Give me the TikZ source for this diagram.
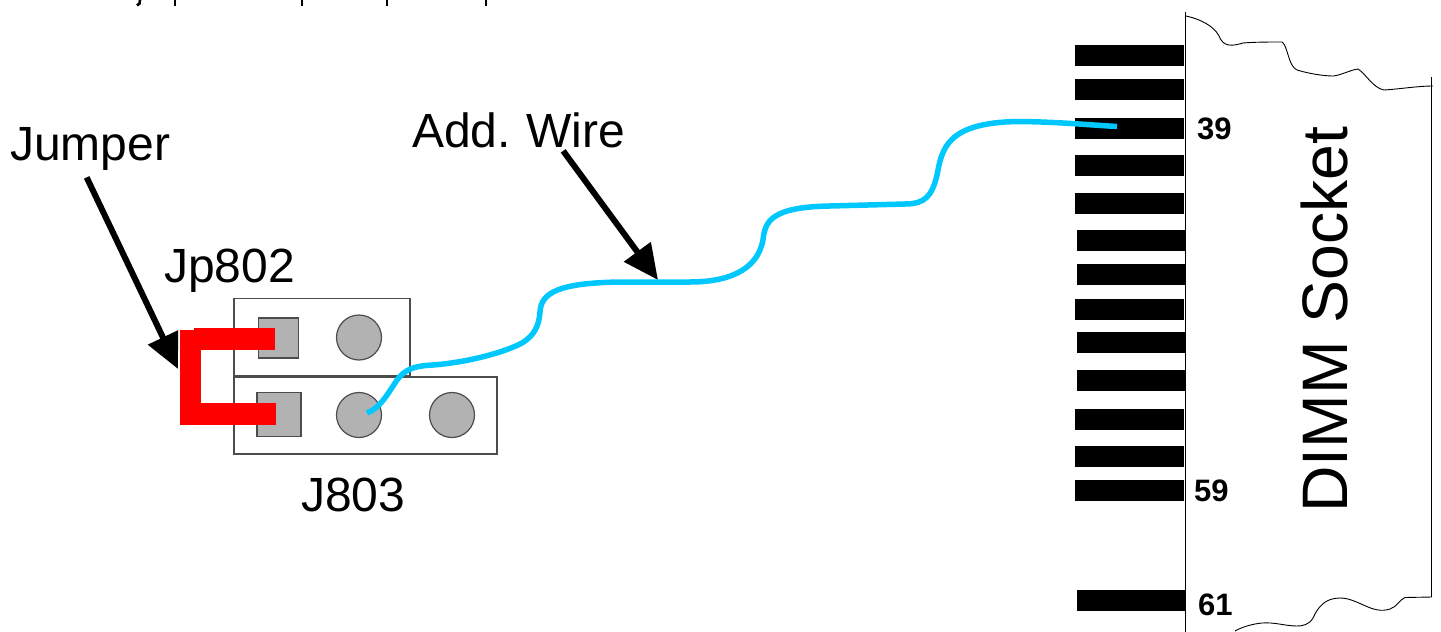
\documentclass[tikz,border=0pt]{standalone}
\usepackage{fontspec}
\setmainfont{Liberation Sans}
\usetikzlibrary{arrows.meta}
\definecolor{wireblue}{HTML}{00C8FF}
\definecolor{pingray}{HTML}{B2B2B2}
\tikzset{
  header/.style={draw=black!70, line width=1.2pt, minimum height=77pt, inner sep=0},
  sqpin/.style={draw=black!70, line width=1.2pt, fill=pingray, inner sep=0},
  rdpin/.style={circle, draw=black!70, line width=1.2pt, fill=pingray, minimum size=45pt, inner sep=0},
  contact/.style={fill=black, minimum height=21pt, inner sep=0, anchor=north west},
  biglabel/.style={font=\fontsize{48}{48}\selectfont, inner sep=0, anchor=base west},
  pinlabel/.style={font=\fontsize{31}{31}\selectfont\bfseries, inner sep=0, anchor=base west},
  pointer/.style={line width=6pt, -{Triangle[length=35pt,width=32pt]}},
  wire/.style={draw=wireblue, line width=5.5pt}
}
\begin{document}
\begin{tikzpicture}[x=1pt, y=-1pt]
    \useasboundingbox (0, 0) rectangle (1441, 632);

    % Cut off line of text
    \foreach \x in {175, 302, 387, 486}
      \draw [line width=2.8pt] (\x, 0) -- (\x, 6);
    \draw [line width=2.6pt] (140, 0) -- (139.5, 3.5) -- (137, 5.5);

    % Headers
    \node [header, minimum width=176pt] (jp802) at (322, 337) {};
    \node [header, minimum width=263pt] (j803) at (365.5, 415.5) {};

    % Pins
    \node [sqpin, minimum size=40pt] (jp802a) at (278.5, 338) {};
    \node [rdpin] (jp802b) at (359, 337.5) {};
    \node [sqpin, minimum size=44pt] (j803a) at (279, 414.5) {};
    \node [rdpin] (j803b) at (359, 415) {};
    \node [rdpin] (j803c) at (452, 415) {};

    % Socket outline
    \draw [line width=1pt] (1185.5, 12) -- (1185.5, 632);
    \draw [line width=1pt] (1431.5, 77) -- (1431.5, 597);
    \draw [line width=0.9pt] (1186, 16) .. controls (1200, 19) and (1214, 26) .. (1219, 36)
          .. controls (1223, 46) and (1230, 47) .. (1243, 43)
          .. controls (1255, 42) and (1270, 42) .. (1282, 42)
          .. controls (1288, 46) and (1288, 66) .. (1297, 70)
          .. controls (1310, 74) and (1325, 76) .. (1333, 76)
          .. controls (1342, 75) and (1350, 70) .. (1358, 69)
          .. controls (1366, 74) and (1373, 88) .. (1384, 90)
          .. controls (1400, 89) and (1418, 86) .. (1433, 86);
    \draw [line width=0.9pt] (1432, 597) -- (1405, 597.5)
          .. controls (1399, 600) and (1397, 607) .. (1390, 609)
          .. controls (1372, 615) and (1358, 598) .. (1340, 598)
          .. controls (1325, 598) and (1318, 607) .. (1313, 618)
          .. controls (1309, 625) and (1302, 626) .. (1297, 626)
          .. controls (1285, 626) and (1275, 622) .. (1262, 623)
          .. controls (1252, 624) and (1242, 627) .. (1235, 631);

    % Contacts
    \foreach \i/\x/\y in {1/1075/44.5, 2/1075/79, 3/1075/118, 4/1075/154.5, 5/1075/193,
                          6/1077/230, 7/1077/264, 8/1075/299, 9/1077/332, 10/1077/370,
                          11/1075/409, 12/1075/446, 13/1075/480, 14/1077/590}
      \node [contact, minimum width=109pt] (pad\i) at (\x, \y) {};

    % Wire ends
    \coordinate (wirestart) at (367, 413);
    \coordinate (wireend) at (1117, 126.5);
    \coordinate (wiretap) at (658, 280);
    \coordinate (jumpertap) at (178, 369);

    % Labels
    \node [biglabel] (jumperlabel) at (10, 160) {Jumper};
    \node [biglabel] (jplabel) at (164, 282) {Jp802};
    \node [biglabel] (jlabel) at (301, 511) {J803};
    \node [biglabel] (wirelabel) at (412, 147) {Add.\hspace{-2pt} Wire};
    \node [pinlabel] (pin39) at (1197, 139) {39};
    \node [pinlabel] (pin59) at (1194, 501) {59};
    \node [pinlabel] (pin61) at (1198, 615) {61};
    \node [font=\fontsize{64.3}{64.3}\selectfont, inner sep=0, anchor=base west, rotate=90]
          (socketlabel) at (1347, 513) {DIMM Socket};

    % Pointers
    \draw [pointer, shorten <=8pt] ([xshift=-7pt]jumperlabel.south) -- (jumpertap);
    \draw [pointer, shorten <=4pt] ([xshift=42pt]wirelabel.south) -- (wiretap);

    % Wire
    \draw [wire] (wirestart) .. controls (380, 408) and (387, 395) .. (397, 380)
          .. controls (405, 370) and (412, 366) .. (433, 365)
          .. controls (470, 362) and (505, 352) .. (522, 343)
          .. controls (535, 335) and (539, 325) .. (540, 312)
          .. controls (541, 292) and (560, 283) .. (620, 282)
          -- (690, 282)
          .. controls (725, 282) and (757, 272) .. (763, 240)
          .. controls (765, 222) and (770, 207) .. (830, 206)
          -- (905, 204)
          .. controls (925, 204) and (932, 196) .. (937, 175)
          .. controls (942, 150) and (945, 122) .. (1020, 121.5)
          .. controls (1060, 122) and (1090, 125) .. (wireend);

    % Jumper
    \fill [red] (179.5, 330) rectangle (200.5, 425);
    \fill [red] (194, 328) rectangle (275, 350);
    \fill [red] (194, 403) rectangle (276, 425);
\end{tikzpicture}
\end{document}
